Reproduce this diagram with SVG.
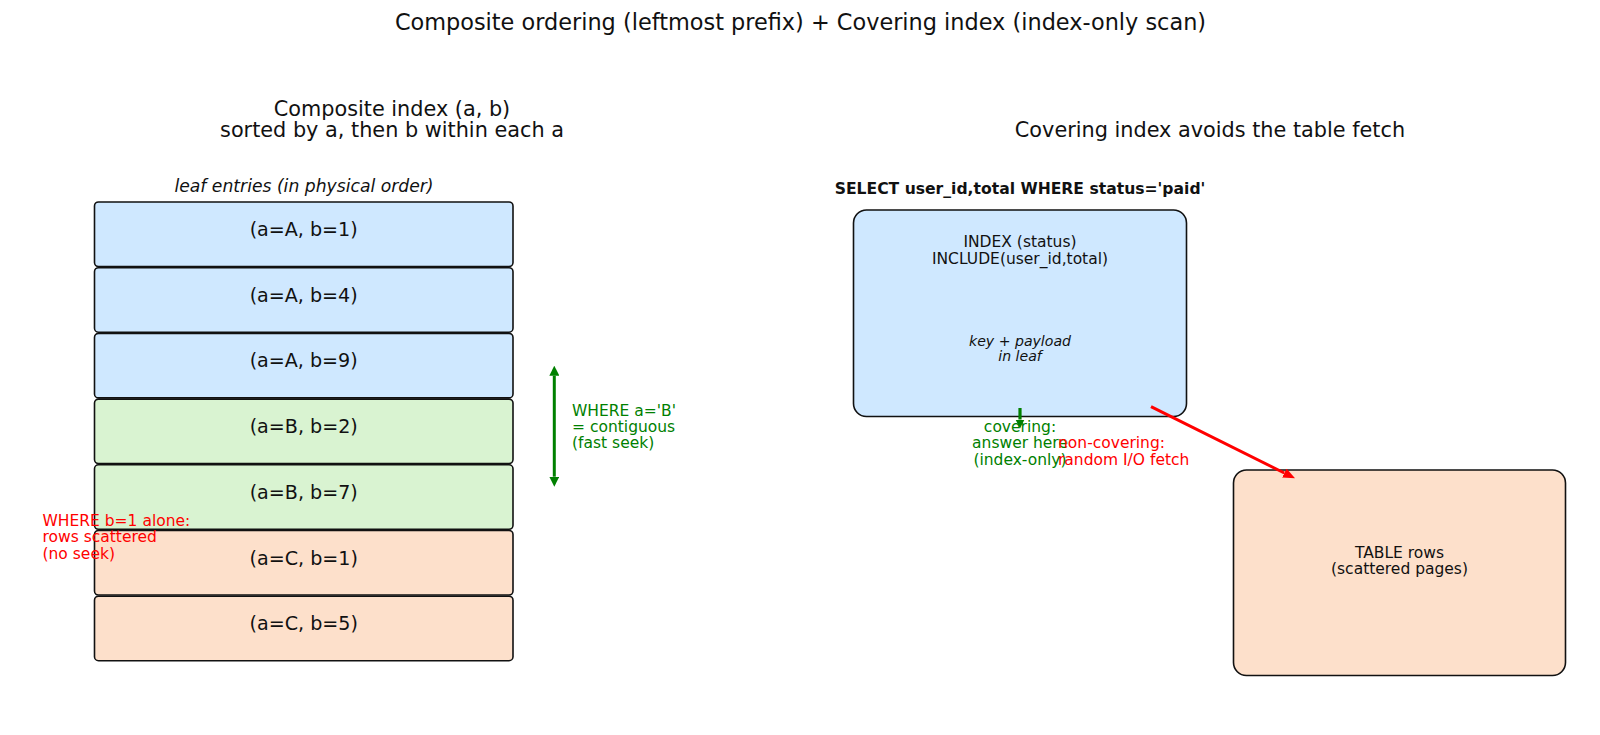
<svg xmlns="http://www.w3.org/2000/svg" width="1600" height="735" viewBox="0 0 1600 735">
<style>
text{font-family:"DejaVu Sans","Liberation Sans",sans-serif;fill:#111}
.title{font-size:22.4px;text-anchor:middle}
.sub{font-size:20.8px;text-anchor:middle}
.leafcap{font-size:17.2px;font-style:italic;text-anchor:middle}
.entry{font-size:19.1px;text-anchor:middle}
.lbl{font-size:15.5px;text-anchor:middle}
.it{font-size:14.1px;font-style:italic;text-anchor:middle}
.bold{font-size:15.6px;font-weight:bold;text-anchor:middle}
.g{fill:#008000;font-size:15.5px}
.r{fill:#ff0000;font-size:15.5px}
.box{stroke:#111;stroke-width:1.6}
.blue{fill:#cfe8ff}
.green{fill:#d9f3d1}
.peach{fill:#fde0cb}
</style>
<defs>
<marker id="hg" viewBox="0 0 10 10" refX="0" refY="5" markerWidth="10" markerHeight="10" markerUnits="userSpaceOnUse" orient="auto-start-reverse"><path d="M0,0 L10,5 L0,10 z" fill="#008000"/></marker>
<marker id="hgs" viewBox="0 0 10 10" refX="0" refY="5" markerWidth="9" markerHeight="10" markerUnits="userSpaceOnUse" orient="auto"><path d="M0,0 L10,5 L0,10 z" fill="#008000"/></marker>
<marker id="hr" viewBox="0 0 12 10" refX="0" refY="5" markerWidth="12" markerHeight="10" markerUnits="userSpaceOnUse" orient="auto"><path d="M0,0 L12,5 L0,10 z" fill="#ff0000"/></marker>
</defs>
<rect width="1600" height="735" fill="#fff"/>
<text class="title" x="800.5" y="30">Composite ordering (leftmost prefix) + Covering index (index-only scan)</text>
<g id="left-heading">
<text class="sub" x="392" y="116">Composite index (a, b)</text>
<text class="sub" x="392" y="137.3">sorted by a, then b within each a</text>
<text class="leafcap" x="304" y="192">leaf entries (in physical order)</text>
</g>
<g id="right-heading">
<text class="sub" x="1210" y="137.3">Covering index avoids the table fetch</text>
<text class="bold" x="1020" y="194">SELECT user_id,total WHERE status='paid'</text>
</g>
<g id="entry1"><rect class="box blue" x="94.5" y="202" width="418.5" height="64.5" rx="4"/><text class="entry" x="303.7" y="236">(a=A, b=1)</text></g>
<g id="entry2"><rect class="box blue" x="94.5" y="267.7" width="418.5" height="64.5" rx="4"/><text class="entry" x="303.7" y="301.7">(a=A, b=4)</text></g>
<g id="entry3"><rect class="box blue" x="94.5" y="333.4" width="418.5" height="64.5" rx="4"/><text class="entry" x="303.7" y="367.4">(a=A, b=9)</text></g>
<g id="entry4"><rect class="box green" x="94.5" y="399.1" width="418.5" height="64.5" rx="4"/><text class="entry" x="303.7" y="433.1">(a=B, b=2)</text></g>
<g id="entry5"><rect class="box green" x="94.5" y="464.8" width="418.5" height="64.5" rx="4"/><text class="entry" x="303.7" y="498.8">(a=B, b=7)</text></g>
<g id="entry6"><rect class="box peach" x="94.5" y="530.5" width="418.5" height="64.5" rx="4"/><text class="entry" x="303.7" y="564.5">(a=C, b=1)</text></g>
<g id="entry7"><rect class="box peach" x="94.5" y="596.2" width="418.5" height="64.5" rx="4"/><text class="entry" x="303.7" y="630.2">(a=C, b=5)</text></g>
<g id="note-b1">
<text class="r" x="42.5" y="526"><tspan x="42.5">WHERE b=1 alone:</tspan><tspan x="42.5" dy="16.4">rows scattered</tspan><tspan x="42.5" dy="16.4">(no seek)</tspan></text>
</g>
<g id="note-aB">
<text class="g" x="572" y="415.5"><tspan x="572">WHERE a='B'</tspan><tspan x="572" dy="16.4">= contiguous</tspan><tspan x="572" dy="16.4">(fast seek)</tspan></text>
</g>
<g id="index-box">
<rect class="box blue" x="853.5" y="210" width="333" height="206.5" rx="13"/>
<text class="lbl" x="1020" y="247.3">INDEX (status)</text>
<text class="lbl" x="1020" y="263.8">INCLUDE(user_id,total)</text>
<text class="it" x="1020" y="345.5">key + payload</text>
<text class="it" x="1020" y="360.5">in leaf</text>
</g>
<g id="table-box">
<rect class="box peach" x="1233.5" y="470" width="332" height="205.5" rx="13"/>
<text class="lbl" x="1399.5" y="557.5">TABLE rows</text>
<text class="lbl" x="1399.5" y="574">(scattered pages)</text>
</g>
<g id="note-covering">
<text class="g" text-anchor="middle" x="1020" y="432"><tspan x="1020">covering:</tspan><tspan x="1020" dy="16.4">answer here</tspan><tspan x="1020" dy="16.4">(index-only)</tspan></text>
</g>
<g id="note-noncovering">
<text class="r" x="1058" y="448.4"><tspan x="1058">non-covering:</tspan><tspan x="1058" dy="16.4">random I/O fetch</tspan></text>
</g>
<g id="connectors">
<line x1="554.3" y1="375.7" x2="554.3" y2="476.7" stroke="#008000" stroke-width="3" marker-start="url(#hg)" marker-end="url(#hg)"/>
<line x1="1020" y1="408" x2="1020" y2="419.5" stroke="#008000" stroke-width="3.2" marker-end="url(#hgs)"/>
<line x1="1151" y1="406.7" x2="1284.3" y2="473" stroke="#ff0000" stroke-width="3" marker-end="url(#hr)"/>
</g>
</svg>
